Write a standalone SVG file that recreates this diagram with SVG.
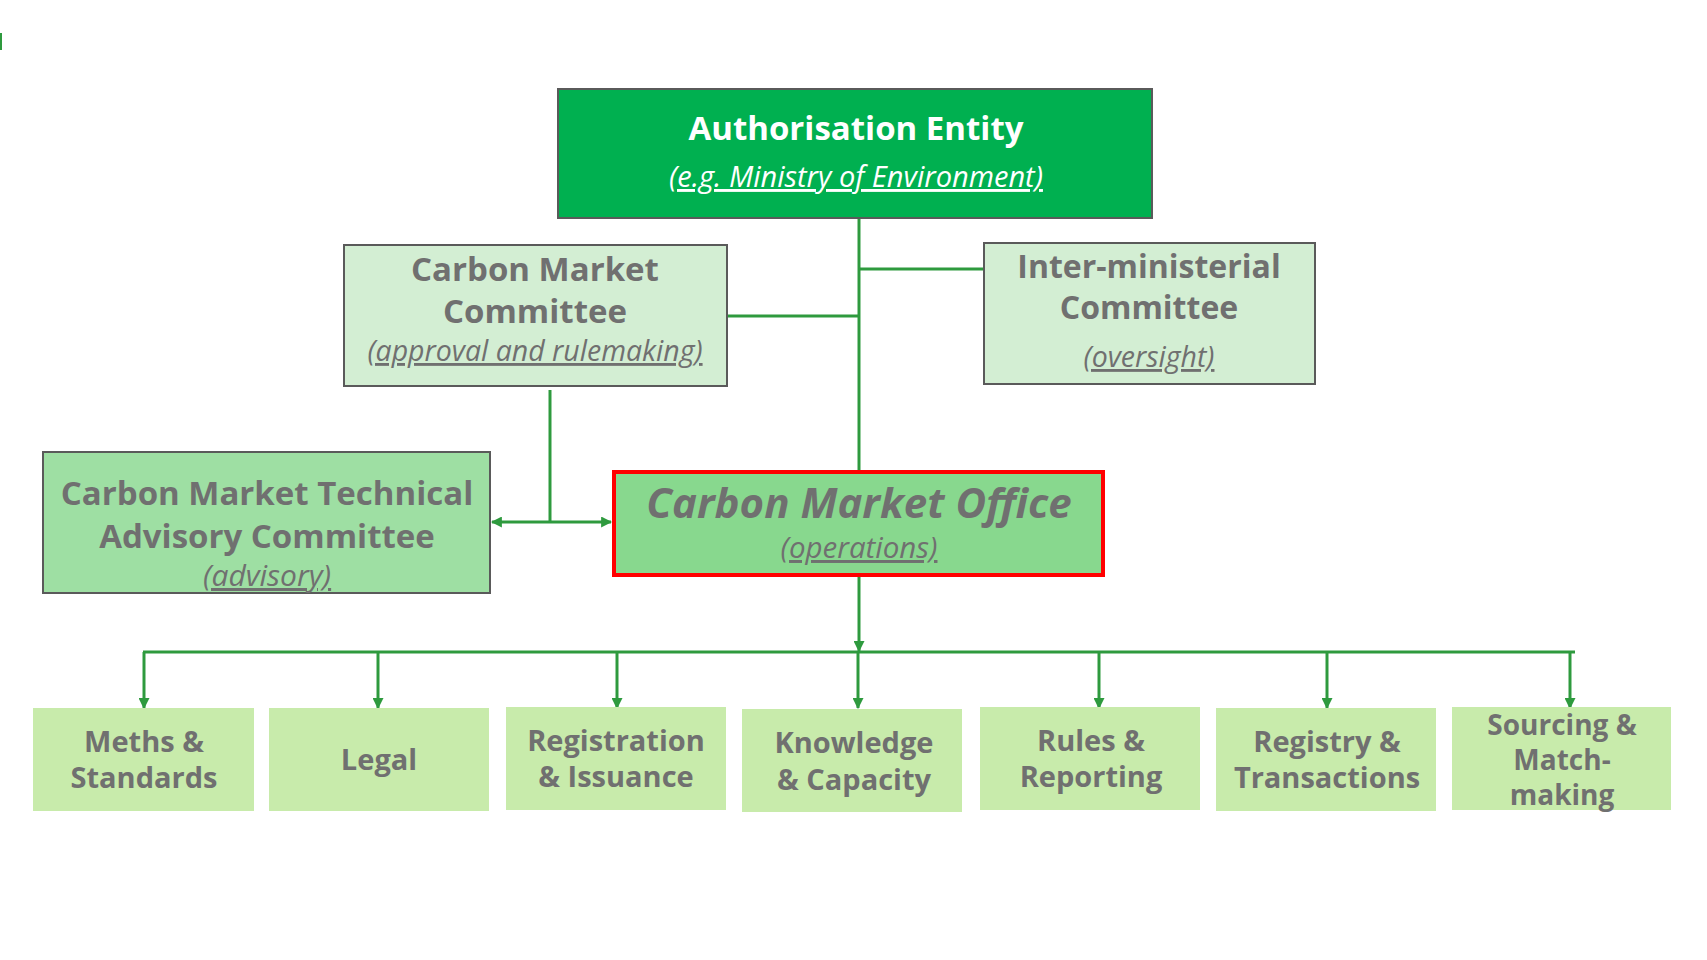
<svg xmlns="http://www.w3.org/2000/svg" width="1707" height="960" viewBox="0 0 1707 960">
<defs>
<marker id="arr" viewBox="0 0 10 10" refX="9" refY="5" markerWidth="11" markerHeight="11" markerUnits="userSpaceOnUse" orient="auto-start-reverse">
<path d="M0,0 L10,5 L0,10 z" fill="#2E9A3E"/>
</marker>
<style>
.t{font-family:"Open Sans","Noto Sans","Liberation Sans",sans-serif;font-weight:700;fill:#707070;text-anchor:middle}
.s{font-family:"Open Sans","Noto Sans","Liberation Sans",sans-serif;font-style:italic;font-weight:400;fill:#707070;text-anchor:middle;text-decoration:underline}
.w{fill:#ffffff}
.bx{stroke:#5A5A5A;stroke-width:2}
.leaf{fill:#C8EBAB}
.lt{font-size:29px}
.c{fill:none;stroke:#2E9A3E;stroke-width:3}
</style>
</defs>
<rect width="1707" height="960" fill="#ffffff"/>
<rect x="0" y="33" width="2" height="17" fill="#2E9A3E"/>

<g id="connectors">
<path class="c" d="M859,218 V471"/>
<path class="c" d="M859,269 H984"/>
<path class="c" d="M727,316 H859"/>
<path class="c" d="M550,390 V522"/>
<path class="c" d="M492,522 H611" marker-start="url(#arr)" marker-end="url(#arr)"/>
<path class="c" d="M859,575 V651" marker-end="url(#arr)"/>
<path class="c" d="M143,652 H1575"/>
<path class="c" d="M144,652 V708" marker-end="url(#arr)"/>
<path class="c" d="M378,652 V708" marker-end="url(#arr)"/>
<path class="c" d="M617,652 V708" marker-end="url(#arr)"/>
<path class="c" d="M858,652 V708" marker-end="url(#arr)"/>
<path class="c" d="M1099,652 V708" marker-end="url(#arr)"/>
<path class="c" d="M1327,652 V708" marker-end="url(#arr)"/>
<path class="c" d="M1570,652 V708" marker-end="url(#arr)"/>
</g>

<g id="authorisation">
<rect class="bx" x="558" y="89" width="594" height="129" fill="#00B050"/>
<text class="t w" x="856" y="140" font-size="33">Authorisation Entity</text>
<text class="s w" x="856" y="187" font-size="29">(e.g. Ministry of Environment)</text>
</g>

<g id="cmc">
<rect class="bx" x="344" y="245" width="383" height="141" fill="#D3EED3"/>
<text class="t" x="535" y="281" font-size="33">Carbon Market</text>
<text class="t" x="535" y="322.5" font-size="33">Committee</text>
<text class="s" x="535" y="361" font-size="28.5">(approval and rulemaking)</text>
</g>

<g id="imc">
<rect class="bx" x="984" y="243" width="331" height="141" fill="#D3EED3"/>
<text class="t" x="1149" y="278" font-size="32">Inter-ministerial</text>
<text class="t" x="1149" y="319" font-size="32">Committee</text>
<text class="s" x="1149" y="367" font-size="28.5">(oversight)</text>
</g>

<g id="tac">
<rect class="bx" x="43" y="452" width="447" height="141" fill="#9EDFA3"/>
<text class="t" x="267" y="505" font-size="33">Carbon Market Technical</text>
<text class="t" x="267" y="548" font-size="33">Advisory Committee</text>
<text class="s" x="267" y="586" font-size="30">(advisory)</text>
</g>

<g id="cmo">
<rect x="614" y="472" width="489" height="103" fill="#88D88E" stroke="#FF0000" stroke-width="4"/>
<text class="t" x="859" y="518" font-size="42" font-style="italic">Carbon Market Office</text>
<text class="s" x="859" y="558" font-size="29.5">(operations)</text>
</g>

<g id="meths">
<rect class="leaf" x="33" y="708" width="221" height="103"/>
<text class="t lt" x="144" y="752">Meths &amp;</text>
<text class="t lt" x="144" y="788">Standards</text>
</g>
<g id="legal">
<rect class="leaf" x="269" y="708" width="220" height="103"/>
<text class="t lt" x="379" y="770">Legal</text>
</g>
<g id="registration">
<rect class="leaf" x="506" y="707" width="220" height="103"/>
<text class="t lt" x="616" y="751">Registration</text>
<text class="t lt" x="616" y="787">&amp; Issuance</text>
</g>
<g id="knowledge">
<rect class="leaf" x="742" y="709" width="220" height="103"/>
<text class="t lt" x="854" y="753">Knowledge</text>
<text class="t lt" x="854" y="790">&amp; Capacity</text>
</g>
<g id="rules">
<rect class="leaf" x="980" y="707" width="220" height="103"/>
<text class="t lt" x="1091" y="751">Rules &amp;</text>
<text class="t lt" x="1091" y="787">Reporting</text>
</g>
<g id="registry">
<rect class="leaf" x="1216" y="708" width="220" height="103"/>
<text class="t lt" x="1327" y="752">Registry &amp;</text>
<text class="t lt" x="1327" y="788">Transactions</text>
</g>
<g id="sourcing">
<rect class="leaf" x="1452" y="707" width="219" height="103"/>
<text class="t" x="1562" y="735" font-size="28">Sourcing &amp;</text>
<text class="t" x="1562" y="770" font-size="28">Match-</text>
<text class="t" x="1562" y="805" font-size="28">making</text>
</g>
</svg>
